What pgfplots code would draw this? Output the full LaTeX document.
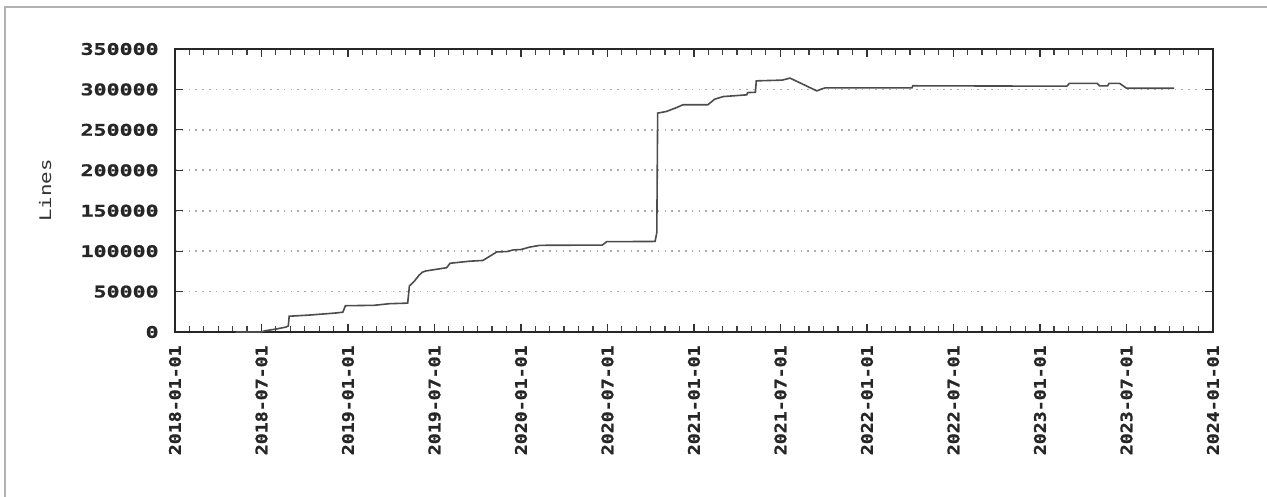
\documentclass[border=0pt]{standalone}
\usepackage{pgfplots}
\pgfplotsset{compat=1.18}
\usepackage{fontspec}
\newfontfamily\gpy[FakeStretch=1.35,FakeBold=1.2]{DejaVu Sans Mono Bold}
\newfontfamily\gpx[FakeStretch=1.14,FakeBold=1.2]{DejaVu Sans Mono Bold}
\newfontfamily\gpl[FakeStretch=1.3]{DejaVu Sans Mono}
\begin{document}
\begin{tikzpicture}
\path[use as bounding box] (-87.5pt,-82.5pt) rectangle (546pt,166pt);
\draw[gray!60, line width=0.6pt] (-85pt,-82.5pt) -- (-85pt,162.5pt) -- (546pt,162.5pt);
\begin{axis}[
  at={(0,0)}, anchor=south west,
  scale only axis, width=519pt, height=141.5pt,
  xmin=2018, xmax=2024, ymin=0, ymax=350000,
  xtick={2018,2018.5,...,2024},
  xticklabels={2018-01-01,2018-07-01,2019-01-01,2019-07-01,2020-01-01,2020-07-01,2021-01-01,2021-07-01,2022-01-01,2022-07-01,2023-01-01,2023-07-01,2024-01-01},
  minor xtick={2018.0833,2018.1667,...,2024},
  ytick={0,50000,...,350000},
  yticklabels={0,50000,100000,150000,200000,250000,300000,350000},
  scaled y ticks=false,
  tick align=inside,
  major tick length=4pt, minor tick length=3pt,
  major tick style={black!80, line width=0.6pt},
  minor tick style={black!75, line width=0.6pt},
  axis line style={black!85, line width=0.8pt},
  ymajorgrids, major grid style={gray!65, line width=0.8pt, dash pattern=on 0.8pt off 2.6pt},
  yticklabel style={font=\gpy\fontsize{8}{9}\selectfont, text=black!85, inner sep=0pt, xshift=-8pt},
  xticklabel style={font=\gpx\fontsize{8}{9}\selectfont, text=black!85, rotate=90, anchor=east, inner sep=0pt},
  xticklabel shift=6.5pt,
  ylabel={Lines},
  ylabel style={font=\gpl\fontsize{8}{9}\selectfont, text=black!80, at={(axis description cs:-0.125,0.5)}, anchor=center, rotate=0},
]
\addplot[gray!60!black, line width=0.8pt, mark=none] coordinates {
(2018.35,0) (2018.50,0) (2018.52,1500) (2018.58,3500) (2018.64,6000) (2018.655,7500)
(2018.66,19500) (2018.78,21000) (2018.93,23500) (2018.97,24500) (2018.985,32500)
(2019.15,33000) (2019.24,35000) (2019.345,35700) (2019.355,57000) (2019.38,62000)
(2019.41,70000) (2019.43,74000) (2019.45,75500) (2019.57,79500) (2019.59,85000)
(2019.70,87500) (2019.78,88500) (2019.86,99000) (2019.92,99500) (2019.955,101500)
(2020.00,102000) (2020.05,105000) (2020.11,107200) (2020.47,107500) (2020.495,111700)
(2020.775,112000) (2020.785,123000) (2020.79,270700) (2020.84,272700) (2020.90,277600)
(2020.935,281000) (2021.08,281000) (2021.12,288000) (2021.17,291200) (2021.305,293300)
(2021.31,296100) (2021.355,296500) (2021.36,310600) (2021.51,311500) (2021.555,314000)
(2021.71,298200) (2021.74,300700) (2021.76,302000) (2022.26,302000) (2022.265,304500)
(2023.155,304000) (2023.17,307500) (2023.33,307500) (2023.345,304400) (2023.39,304400)
(2023.40,307500) (2023.46,307500) (2023.50,301500) (2023.775,301500)
};
\end{axis}
\end{tikzpicture}
\end{document}
